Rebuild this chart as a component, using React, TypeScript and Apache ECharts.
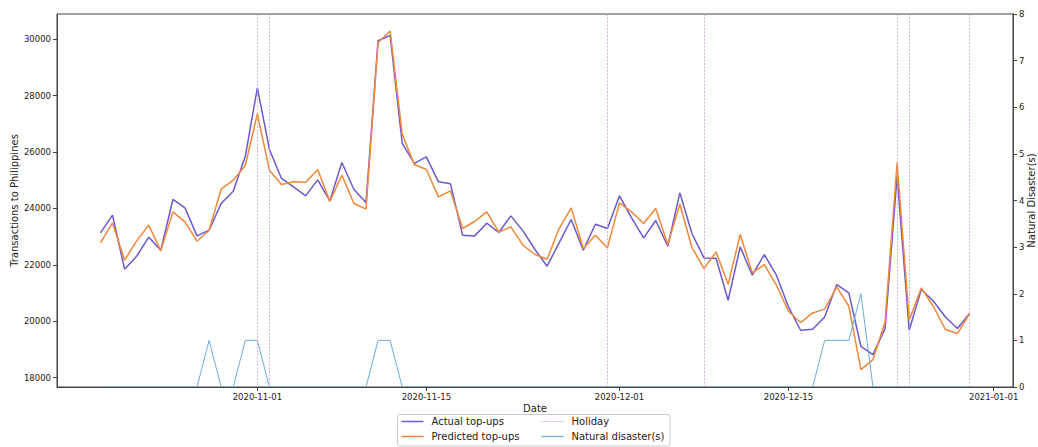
import React, { useEffect, useRef } from "react";
import * as echarts from "echarts";

const startDay = "2020-10-19";
const dayCount = 73;

const actualTopUps = [
  23134, 23763, 21846, 22307, 22982, 22520, 24320, 24022, 23028, 23230, 24178, 24615, 25850,
  28280, 26095, 25065, 24768, 24448, 25016, 24270, 25633, 24675, 24213, 29950, 30140,
  26308, 25598, 25833, 24945, 24874, 23053, 23028, 23479, 23148, 23738, 23205, 22545,
  21952, 22780, 23610, 22520, 23443, 23290, 24448, 23667, 22957, 23574, 22662, 24554,
  23113, 22247, 22236, 20745, 22638, 21633, 22367, 21633, 20507, 19680, 19715, 20150,
  21302, 21005, 19112, 18817, 19740, 25150, 19680, 21125, 20720, 20152, 19740, 20273,
];

const predictedTopUps = [
  22779, 23489, 22165, 22850, 23408, 22496, 23880, 23525, 22840, 23230, 24686, 25005, 25525,
  27360, 25360, 24852, 24945, 24934, 25385, 24250, 25183, 24178, 23976, 29890, 30295,
  26638, 25560, 25385, 24412, 24625, 23290, 23539, 23880, 23160, 23348, 22698, 22368,
  22200, 23290, 24022, 22580, 23053, 22602, 24200, 23880, 23468, 24000, 22722, 24160,
  22616, 21870, 22460, 21313, 23077, 21715, 22012, 21278, 20355, 19953, 20294, 20430,
  21217, 20532, 18285, 18640, 19975, 25625, 20035, 21183, 20532, 19705, 19563, 20273,
];

const naturalDisasters = [
  0, 0, 0, 0, 0, 0, 0, 0, 0, 1,
  0, 0, 1, 1, 0, 0, 0, 0, 0, 0,
  0, 0, 0, 1, 1, 0, 0, 0, 0, 0,
  0, 0, 0, 0, 0, 0, 0, 0, 0, 0,
  0, 0, 0, 0, 0, 0, 0, 0, 0, 0,
  0, 0, 0, 0, 0, 0, 0, 0, 0, 0,
  1, 1, 1, 2, 0, 0, 0, 0, 0, 0,
  0, 0, 0,
];

const holidays = ["2020-11-01", "2020-11-02", "2020-11-30", "2020-12-08", "2020-12-24", "2020-12-25", "2020-12-30"];

const xTickLabels = ["2020-11-01", "2020-11-15", "2020-12-01", "2020-12-15", "2021-01-01"];
const yLeftTicks = [18000, 20000, 22000, 24000, 26000, 28000, 30000];

const DAY = 86400000;
const toTs = (s: string) => {
  const [y, m, d] = s.split("-").map(Number);
  return Date.UTC(y, m - 1, d);
};
const pad = (n: number) => (n < 10 ? "0" + n : "" + n);
const fmt = (ts: number) => {
  const d = new Date(Math.round(ts / DAY) * DAY);
  return d.getUTCFullYear() + "-" + pad(d.getUTCMonth() + 1) + "-" + pad(d.getUTCDate());
};

const dayTs: number[] = [];
for (let i = 0; i < dayCount; i++) dayTs.push(toTs(startDay) + i * DAY);

const FONT = "DejaVu Sans";
const TEXT = "#222";
const AXIS = "#444";

const C_ACTUAL = "#6a5acd";
const C_PRED = "#f0883a";
const C_HOL = "#d8a3d8";
const C_DIS = "#6aaed6";

// dotted icon for the legend
let dotPath = "path://";
for (let k = 0; k < 9; k++) {
  const x0 = k * 2.575;
  dotPath += `M${x0.toFixed(3)},0H${(x0 + 1.4).toFixed(3)}V1H${x0.toFixed(3)}Z`;
}

export default function App() {
  const ref = useRef<HTMLDivElement>(null);
  useEffect(() => {
    if (!ref.current) return;
    const chart = echarts.init(ref.current, undefined, { renderer: "svg" });
    const xMin = dayTs[0] - 3.6 * DAY;
    const xMax = dayTs[dayTs.length - 1] + 3.6 * DAY;
    const xTicks = xTickLabels.map(toTs);
    const mkLegend = (name: string, left: number, top: number, icon: string, h: number) => ({
      left,
      top,
      padding: 0,
      orient: "horizontal",
      itemWidth: 22,
      itemHeight: h,
      icon,
      data: [name],
      selectedMode: false,
      textStyle: { fontFamily: FONT, fontSize: 10, color: TEXT, padding: [0, 0, 0, 3] },
      z: 5,
    });
    const option: any = {
      animation: false,
      backgroundColor: "#fff",
      grid: {
        left: 57,
        right: 25,
        top: 14,
        bottom: 60,
        show: true,
        borderColor: AXIS,
        borderWidth: 1,
        backgroundColor: "transparent",
        containLabel: false,
        outerBoundsMode: "none",
      },
      xAxis: {
        type: "value",
        min: xMin,
        max: xMax,
        z: 5,
        name: "Date",
        nameLocation: "middle",
        nameGap: 16,
        nameMoveOverlap: false,
        nameTextStyle: { fontFamily: FONT, fontSize: 10, color: TEXT },
        axisLine: { show: true, lineStyle: { color: AXIS, width: 1 } },
        axisTick: { show: true, length: 4, lineStyle: { color: AXIS }, customValues: xTicks },
        axisLabel: {
          fontFamily: FONT,
          fontSize: 8.5,
          color: TEXT,
          margin: 5,
          customValues: xTicks,
          formatter: (v: number) => fmt(v),
        },
        splitLine: { show: false },
      },
      yAxis: [
        {
          type: "value",
          min: 17667,
          max: 30900,
          position: "left",
          name: "Transactions to Philippines",
          nameLocation: "middle",
          nameRotate: 90,
          nameGap: 38,
          nameMoveOverlap: false,
          nameTextStyle: { fontFamily: FONT, fontSize: 10, color: TEXT },
          axisLine: { show: true, lineStyle: { color: AXIS, width: 1 } },
          axisTick: { show: true, length: 4, lineStyle: { color: AXIS }, customValues: yLeftTicks },
          axisLabel: {
            fontFamily: FONT,
            fontSize: 8.5,
            color: TEXT,
            margin: 6,
            customValues: yLeftTicks,
            formatter: (v: number) => String(v),
          },
          splitLine: { show: false },
        },
        {
          type: "value",
          min: 0,
          max: 8,
          interval: 1,
          position: "right",
          name: "Natural Disaster(s)",
          nameLocation: "middle",
          nameRotate: 90,
          nameGap: 13,
          nameMoveOverlap: false,
          nameTextStyle: { fontFamily: FONT, fontSize: 10, color: TEXT },
          axisLine: { show: true, lineStyle: { color: AXIS, width: 1 } },
          axisTick: { show: true, length: 4, lineStyle: { color: AXIS } },
          axisLabel: { fontFamily: FONT, fontSize: 8.5, color: TEXT, margin: 6 },
          splitLine: { show: false },
        },
      ],
      legend: [
        mkLegend("Actual top-ups", 401.5, 416.5, "rect", 1.5),
        mkLegend("Predicted top-ups", 401.5, 431.5, "rect", 1.5),
        mkLegend("Holiday", 541.5, 416.5, dotPath, 1),
        mkLegend("Natural disaster(s)", 541.5, 431.5, "rect", 1.2),
      ],
      graphic: [
        {
          type: "rect",
          z: 3,
          shape: { x: 397.5, y: 414.5, width: 272.5, height: 31.5, r: 2 },
          style: { fill: "#fff", stroke: "#cccccc", lineWidth: 1 },
        },
      ],
      series: [
        {
          name: "Actual top-ups",
          type: "line",
          data: dayTs.map((t, i) => [t, actualTopUps[i]]),
          symbol: "none",
          showSymbol: false,
          lineStyle: { color: C_ACTUAL, width: 1.5 },
          itemStyle: { color: C_ACTUAL },
          z: 2,
        },
        {
          name: "Predicted top-ups",
          type: "line",
          data: dayTs.map((t, i) => [t, predictedTopUps[i]]),
          symbol: "none",
          showSymbol: false,
          lineStyle: { color: C_PRED, width: 1.5 },
          itemStyle: { color: C_PRED },
          z: 2,
        },
        {
          name: "Holiday",
          type: "line",
          data: [],
          symbol: "none",
          lineStyle: { color: C_HOL, width: 1, type: "dotted" },
          itemStyle: { color: C_HOL },
          markLine: {
            silent: true,
            symbol: ["none", "none"],
            label: { show: false },
            lineStyle: { color: "#cc9ed2", width: 0.8, type: [2, 1.5] },
            emphasis: { disabled: true },
            data: holidays.map((h) => ({ xAxis: toTs(h) })),
          },
          z: 2,
        },
        {
          name: "Natural disaster(s)",
          type: "line",
          yAxisIndex: 1,
          data: dayTs.map((t, i) => [t, naturalDisasters[i]]),
          symbol: "none",
          showSymbol: false,
          lineStyle: { color: C_DIS, width: 1 },
          itemStyle: { color: C_DIS },
          z: 2,
        },
      ],
    };
    chart.setOption(option);
    return () => chart.dispose();
  }, []);
  return (
    <div
      ref={ref}
      style={{ position: "fixed", left: 0, top: 0, width: 1038, height: 447, background: "#fff" }}
    />
  );
}
